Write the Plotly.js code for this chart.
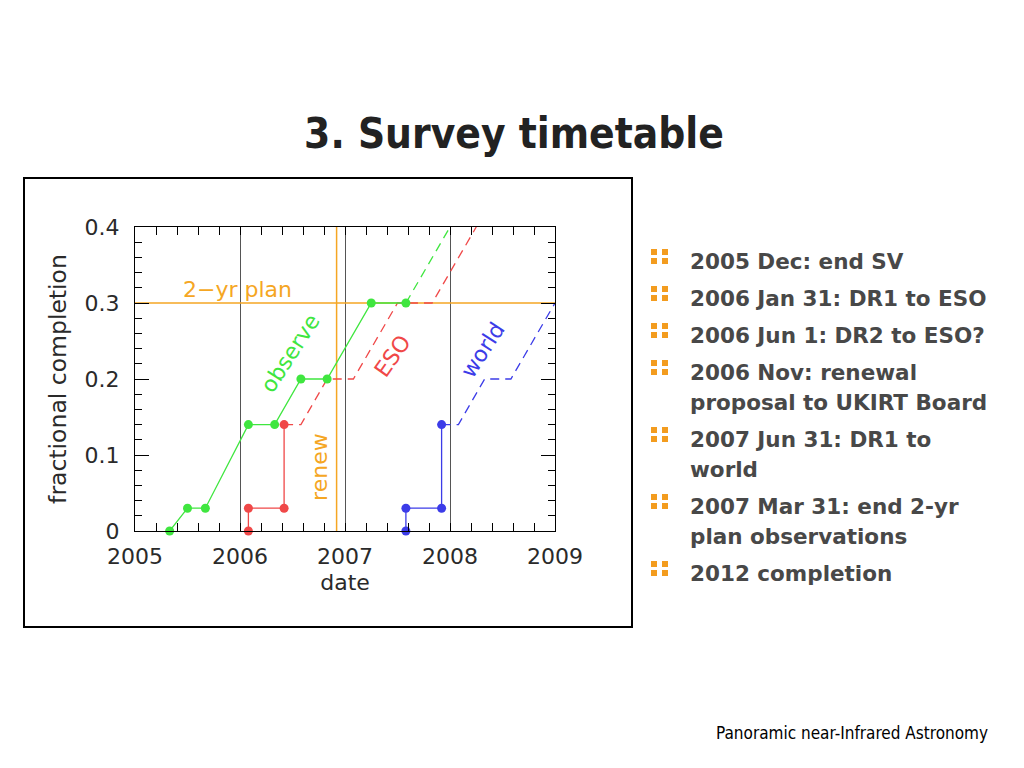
<!DOCTYPE html>
<html>
<head>
<meta charset="utf-8">
<script src="https://cdn.plot.ly/plotly-3.0.1.min.js"></script>
<style>
  html, body { margin:0; padding:0; background:#fff; width:1024px; height:768px; overflow:hidden; }
  #title { position:absolute; left:14px; top:109px; width:1000px; height:50px; line-height:50px;
           text-align:center; font-family:"DejaVu Sans Condensed","DejaVu Sans",sans-serif; font-weight:bold;
           font-size:42px; color:#222; white-space:nowrap; }
  #frame { position:absolute; left:23px; top:177px; width:610px; height:451px; border:2px solid #000; box-sizing:border-box; }
  #chart { position:absolute; left:25px; top:179px; width:606px; height:447px; }
  #bullets { position:absolute; left:690px; top:247px; margin:0; padding:0; list-style:none;
             font-family:"DejaVu Sans",sans-serif; font-weight:bold; font-size:21.5px; line-height:30px; color:#484848; }
  #bullets li { position:relative; margin:0 0 7px 0; white-space:nowrap; }
  #bullets li .b { position:absolute; left:-39px; top:2px; width:6px; height:6px; background:#f39c1f;
                   box-shadow: 11px 0 0 #f39c1f, 0 9px 0 #f39c1f, 11px 9px 0 #f39c1f; }
  #footer { position:absolute; right:36px; top:723px; line-height:20px; font-family:"DejaVu Sans Condensed","DejaVu Sans",sans-serif;
            font-size:17px; color:#000; white-space:nowrap; }
</style>
</head>
<body>
<div id="title">3. Survey timetable</div>
<div id="frame"></div>
<div id="chart"></div>
<ul id="bullets"></ul>
<div id="footer">Panoramic near-Infrared Astronomy</div>
<script>
// ---- data ----
const obsX = [2005.33, 2005.5, 2005.67, 2006.08, 2006.33, 2006.58, 2006.83, 2007.25, 2007.58];
const obsY = [0, 0.03, 0.03, 0.14, 0.14, 0.2, 0.2, 0.3, 0.3];
const obsPlanX = [2007.58, 2008.0];
const obsPlanY = [0.3, 0.4];
const esoX = [2006.08, 2006.08, 2006.42, 2006.42];
const esoY = [0, 0.03, 0.03, 0.14];
const esoPlanX = [2006.42, 2006.58, 2006.83, 2007.08, 2007.5, 2007.83, 2008.25];
const esoPlanY = [0.14, 0.14, 0.2, 0.2, 0.3, 0.3, 0.4];
const worldX = [2007.58, 2007.58, 2007.92, 2007.92];
const worldY = [0, 0.03, 0.03, 0.14];
const worldPlanX = [2007.92, 2008.08, 2008.33, 2008.58, 2009.0];
const worldPlanY = [0.14, 0.14, 0.2, 0.2, 0.3];
const planLevel = 0.3;
const renewDate = 2006.92;
const xRange = [2005, 2009];
const yRange = [0, 0.4];
const xTickVals = [2005, 2006, 2007, 2008, 2009];
const xTickText = ['2005', '2006', '2007', '2008', '2009'];
const yTickVals = [0, 0.1, 0.2, 0.3, 0.4];
const yTickText = ['0', '0.1', '0.2', '0.3', '0.4'];
const bulletItems = [
  '2005 Dec: end SV',
  '2006 Jan 31: DR1 to ESO',
  '2006 Jun 1: DR2 to ESO?',
  '2006 Nov: renewal<br>proposal to UKIRT Board',
  '2007 Jun 31: DR1 to<br>world',
  '2007 Mar 31: end 2-yr<br>plan observations',
  '2012 completion'
];

// ---- bullets ----
const ul = document.getElementById('bullets');
bulletItems.forEach(t => {
  const li = document.createElement('li');
  li.innerHTML = '<span class="b"></span>' + t;
  ul.appendChild(li);
});

// ---- chart ----
const GREEN = '#3fe63f', RED = '#f04848', BLUE = '#3c3ce8', ORANGE = '#f5a623';
const DASH = '9px,6px';
const FONT = {family: 'DejaVu Sans, sans-serif', size: 22, color: '#2a2a2a'};

const traces = [
  {x: xRange, y: [planLevel, planLevel], mode: 'lines', line: {color: ORANGE, width: 1.5}, hoverinfo: 'skip'},
  {x: [renewDate, renewDate], y: yRange, mode: 'lines', line: {color: ORANGE, width: 1.5}, hoverinfo: 'skip'},
  {x: obsPlanX, y: obsPlanY, mode: 'lines', line: {color: GREEN, width: 1.3, dash: DASH}},
  {x: esoPlanX, y: esoPlanY, mode: 'lines', line: {color: RED, width: 1.3, dash: DASH}},
  {x: worldPlanX, y: worldPlanY, mode: 'lines', line: {color: BLUE, width: 1.3, dash: DASH}},
  {x: obsX, y: obsY, mode: 'lines+markers', line: {color: GREEN, width: 1.3}, marker: {color: GREEN, size: 9}, cliponaxis: false},
  {x: esoX, y: esoY, mode: 'lines+markers', line: {color: RED, width: 1.3}, marker: {color: RED, size: 9}, cliponaxis: false},
  {x: worldX, y: worldY, mode: 'lines+markers', line: {color: BLUE, width: 1.3}, marker: {color: BLUE, size: 9}, cliponaxis: false}
];

const ann = (text, x, y, color, angle) => ({
  text, x, y, xref: 'x', yref: 'y', showarrow: false, textangle: angle,
  font: {family: FONT.family, size: 22, color}
});

const layout = {
  width: 606, height: 447,
  margin: {l: 110, r: 76, t: 48, b: 95},
  paper_bgcolor: 'rgba(0,0,0,0)', plot_bgcolor: '#fff',
  showlegend: false,
  font: FONT,
  xaxis: {
    range: xRange, tickvals: xTickVals, ticktext: xTickText,
    ticks: 'inside', ticklen: 8, tickcolor: '#000', tickwidth: 1,
    minor: {dtick: 0.2, ticks: 'inside', ticklen: 8, tickcolor: '#000', showgrid: false},
    showgrid: true, gridcolor: '#555', gridwidth: 1,
    showline: true, linecolor: '#000', linewidth: 1, mirror: 'ticks', zeroline: false,
    ticklabelstandoff: 6,
    tickfont: FONT,
    title: {text: 'date', font: FONT, standoff: 6}
  },
  yaxis: {
    range: yRange, tickvals: yTickVals, ticktext: yTickText,
    ticks: 'inside', ticklen: 14, tickcolor: '#000', tickwidth: 1,
    minor: {dtick: 0.02, ticks: 'inside', ticklen: 7, tickcolor: '#000', showgrid: false},
    showgrid: false,
    showline: true, linecolor: '#000', linewidth: 1, mirror: 'ticks', zeroline: false,
    ticklabelstandoff: 10,
    tickfont: FONT,
    title: {text: 'fractional completion', font: {family: FONT.family, size: 23.5, color: FONT.color}, standoff: 11}
  },
  annotations: [
    ann('2−yr plan', 2005.98, 0.318, ORANGE, 0),
    ann('observe', 2006.476, 0.234, GREEN, -57),
    ann('ESO', 2007.448, 0.230, RED, -55),
    ann('world', 2008.314, 0.239, BLUE, -57),
    ann('renew', 2006.75, 0.084, ORANGE, -90)
  ]
};

Plotly.newPlot('chart', traces, layout, {displayModeBar: false, staticPlot: true});
</script>
</body>
</html>
